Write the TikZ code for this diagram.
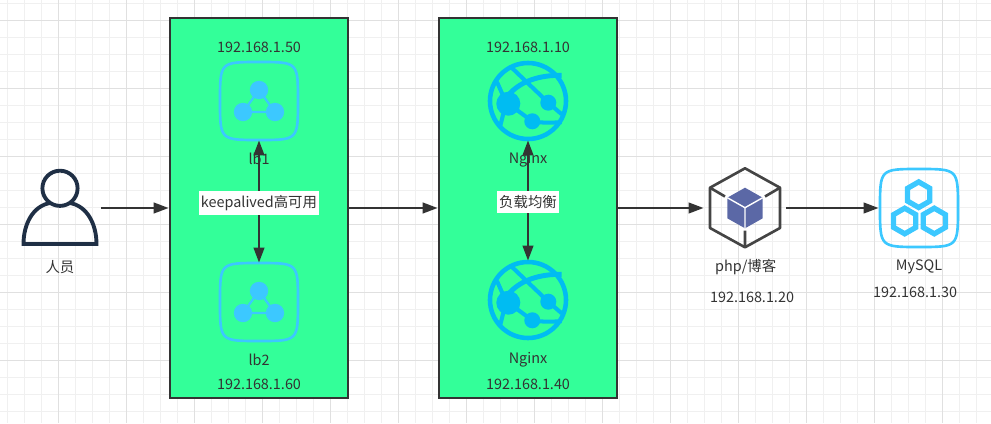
\documentclass[tikz,border=0pt]{standalone}
\usepackage{fontspec}
\setmainfont{Noto Sans CJK SC}
\usetikzlibrary{arrows.meta}
\definecolor{boxgreen}{HTML}{33FF99}
\definecolor{darkline}{HTML}{333333}
\definecolor{lbblue}{HTML}{3CC8FF}
\definecolor{globeblue}{HTML}{00BCF2}
\definecolor{cubegrey}{HTML}{444444}
\definecolor{cubeblue}{HTML}{5B68A6}
\definecolor{personblue}{HTML}{1F2F45}
\tikzset{
  x=0.02cm, y=-0.02cm,
  hostbox/.style={draw=darkline, fill=boxgreen, line width=1.5pt, minimum width=3.56cm, minimum height=7.6cm},
  iconbox/.style={minimum width=#1*0.02cm, minimum height=1.56cm, inner sep=0pt},
  txt/.style={text=darkline, font=\fontsize{8.2}{9.8}\selectfont, inner sep=0pt},
  flow/.style={draw=darkline, line width=1.4pt, -{Triangle[length=0.3cm,width=0.21cm]}},
  both/.style={draw=darkline, line width=1.4pt, {Triangle[length=0.3cm,width=0.21cm]}-{Triangle[length=0.3cm,width=0.21cm]}},
  tag/.style={txt, fill=white, inner ysep=2.5pt, inner xsep=1pt},
  squircle/.pic={
    \draw[lbblue, line width=1.5pt] (0,-39) .. controls (39,-39) .. (39,0) .. controls (39,39) .. (0,39)
      .. controls (-39,39) .. (-39,0) .. controls (-39,-39) .. (0,-39);
  },
  lbicon/.pic={
    \pic {squircle};
    \draw[lbblue, line width=1.3pt] (0,-11) -- (16,11) -- (-16,11) -- cycle;
    \fill[lbblue] (0,-11) circle (9.2) (16,11) circle (9.2) (-16,11) circle (9.2);
  },
  globeicon/.pic={
    \draw[globeblue, line width=2.6pt] (0,0) circle (38);
    \fill[globeblue] (-19.7,2.7) circle (12) (20.3,1.7) circle (8) (4.3,20.3) circle (8);
    \draw[globeblue, line width=2.3pt] (-16.3,-33.3) -- (20.3,1.7) -- (33.7,13.3);
    \draw[globeblue, line width=2.8pt] (-19.7,-5.7) .. controls (-8,-20) and (12,-26) .. (33.7,-25.7);
    \draw[globeblue, line width=2.3pt] (-19.7,2.7) -- (4.3,20.3) .. controls (14,22) and (24,22) .. (33.7,21);
    \draw[globeblue, line width=2.3pt] (-31,-19) -- (-23,-1) (-23,6) -- (-28,26);
  },
}
\begin{document}
\begin{tikzpicture}
\useasboundingbox (0,0) rectangle (991,423);

% background grid
\foreach \k in {0,...,58} {\draw[black!6, line width=0.5pt] (7.7+17*\k,0) -- (7.7+17*\k,423);}
\foreach \k in {0,...,24} {\draw[black!6, line width=0.5pt] (0,3.7+17*\k) -- (991,3.7+17*\k);}
\foreach \k in {0,...,14} {\draw[black!12, line width=0.6pt] (58.7+68*\k,0) -- (58.7+68*\k,423);}
\foreach \k in {0,...,5} {\draw[black!12, line width=0.6pt] (0,20.7+68*\k) -- (991,20.7+68*\k);}

% the two groups
\node[hostbox] (lbbox) at (259,208) {};
\node[hostbox] (ngbox) at (528,208) {};

% person
\node[iconbox=82] (person) at (60,208) {};
\draw[personblue, line width=2.2pt] (60,188.3) circle (17.6);
\draw[personblue, line width=2.2pt, line join=miter] (50,203) .. controls (33,206) and (23.5,224) .. (23.5,244) -- (96.5,244) .. controls (96.5,224) and (87,206) .. (70,203);
\node[txt] (personlabel) at (60,267) {人员};

% load balancers
\node[iconbox=80] (lbone) at (259,101) {};
\pic at (259,101) {lbicon};
\node[iconbox=80] (lbtwo) at (259,302) {};
\pic at (259,302) {lbicon};
\node[txt] (lboneip) at (259,47) {192.168.1.50};
\node[txt] (lbonelabel) at (259,159) {lb1};
\node[txt] (lbtwolabel) at (259,360) {lb2};
\node[txt] (lbtwoip) at (259,384) {192.168.1.60};

% nginx
\node[iconbox=80] (ngone) at (528,101) {};
\pic at (528,101) {globeicon};
\node[iconbox=80] (ngtwo) at (528,300) {};
\pic at (528,300) {globeicon};
\node[txt] (ngoneip) at (528,47) {192.168.1.10};
\node[txt] (ngonelabel) at (528,160) {Nginx};
\node[txt] (ngtwolabel) at (528,360) {Nginx};
\node[txt] (ngtwoip) at (528,384) {192.168.1.40};

% php
\node[iconbox=82] (php) at (745,208) {};
\draw[cubegrey, line width=1.5pt, line join=round] (745,168.3) -- (780,187.7) -- (780,228) -- (745,247.3) -- (710,228) -- (710,187.7) -- cycle;
\draw[cubegrey, line width=1.5pt] (710,187.7) -- (725,196.5) (780,187.7) -- (765,196.5) (745,247.3) -- (745,230.5);
\fill[cubeblue] (745,187.7) -- (762.7,197.7) -- (762.7,218.3) -- (745,228.3) -- (727.3,218.3) -- (727.3,197.7) -- cycle;
\draw[white, line width=0.8pt] (727.3,197.7) -- (745,207.7) -- (762.7,197.7) (745,207.7) -- (745,228.3);
\node[txt] (phplabel) at (745.7,267) {php/博客};
\node[txt] (phpip) at (752,297) {192.168.1.20};

% mysql
\node[iconbox=80] (mysql) at (919,208) {};
\pic at (919,208) {squircle};
\foreach \cx/\cy in {918.7/194.7, 904.7/221, 934.3/221} {
  \draw[lbblue, line width=3pt] (\cx,\cy-12.8) -- (\cx+11.1,\cy-6.4) -- (\cx+11.1,\cy+6.4) -- (\cx,\cy+12.8) -- (\cx-11.1,\cy+6.4) -- (\cx-11.1,\cy-6.4) -- cycle;
}
\node[txt] (mysqllabel) at (919,267) {MySQL};
\node[txt] (mysqlip) at (915,292) {192.168.1.30};

% connectors
\draw[flow] (person.east) -- (lbbox.west);
\draw[flow] (lbbox.east) -- (ngbox.west);
\draw[flow] (ngbox.east) -- (php.west);
\draw[flow] (php.east) -- (mysql.west);
\draw[both] (lbone.south) -- node[tag, pos=0.51] (lbtag) {keepalived高可用} (lbtwo.north);
\draw[both] (ngone.south) -- node[tag, pos=0.51] (ngtag) {负载均衡} (ngtwo.north);
\end{tikzpicture}
\end{document}
